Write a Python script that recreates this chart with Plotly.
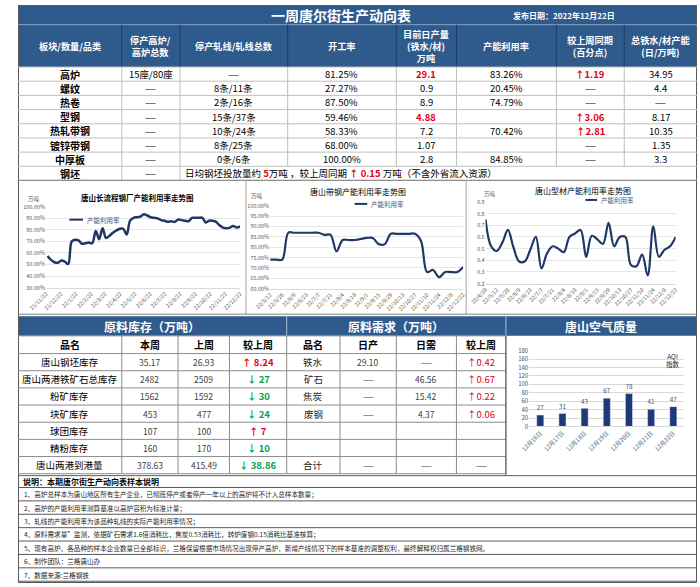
import plotly.graph_objects as go
import pandas as pd

W, H = 700, 587
FONT = 'Noto Sans CJK SC'
BLUE = '#2F5B8C'
NAVY = '#1F3864'
RED = '#E60012'
GREEN = '#00A550'
GRID = '#D9D9D9'
TICK = '#595959'

# ---------------- top table ----------------
row_names = ['高炉', '螺纹', '热卷', '型钢', '热轧带钢', '镀锌带钢', '中厚板', '钢坯']
bf_stop = ['15座/80座', '——', '——', '——', '——', '——', '——', '——']
line_stop = ['——', '8条/11条', '2条/16条', '15条/37条', '10条/24条', '8条/25条', '0条/6条']
run_rate = ['81.25%', '27.27%', '87.50%', '59.46%', '58.33%', '68.00%', '100.00%']
daily_out = ['29.1', '0.9', '8.9', '4.88', '7.2', '1.07', '2.8']
cap_util = ['83.26%', '20.45%', '74.79%', '', '70.42%', '', '84.85%']
wow_chg = ['↑1.19', '——', '——', '↑3.06', '↑2.81', '——', '——']
capacity = ['34.95', '4.4', '——', '8.17', '10.35', '1.35', '3.3']
red_out = ['29.1', '4.88']
billet_daily = '5'
billet_chg = '0.15'

# ---------------- trend charts ----------------
long_util = [57.5, 54, 52, 51.5, 53.5, 52.5, 50.5, 70, 71.5, 71, 68, 68.5, 69, 68.5,
             79, 72, 81.5, 73, 75, 77.5, 79.5, 81, 81, 76, 88, 90.5, 91, 91.5, 93.5,
             92.5, 91, 90.5, 90, 88.5, 88, 87, 87.5, 87, 89, 88.5, 88, 87.5, 90.5,
             90.5, 90.5, 90.5, 86.5, 88, 88, 87, 84, 82, 81.5, 82, 83.5, 82, 83]
strip_util = [74, 74, 74, 87, 87, 87, 87, 87, 87, 86, 86, 78, 83.5, 83.5, 83.5, 84,
              84.5, 84.5, 81.5, 81.5, 86.5, 86.5, 86.5, 86.5, 86.5, 83, 68, 69, 65.5,
              68, 68, 68, 70.5]
section_util = [0.75, 0.52, 0.48, 0.55, 0.66, 0.51, 0.39, 0.39, 0.49, 0.60, 0.33, 0.46,
                0.52, 0.50, 0.47, 0.60, 0.63, 0.66, 0.43, 0.61, 0.58, 0.54, 0.72, 0.52,
                0.60, 0.60, 0.36, 0.35, 0.45, 0.27, 0.69, 0.43, 0.49, 0.52, 0.60]

long_dates = pd.date_range(end='2022-12-22', periods=len(long_util), freq='7D')
long_ticks = pd.date_range('2021-11-22', periods=14, freq=pd.DateOffset(months=1))
strip_dates = pd.date_range('2022-05-12', periods=len(strip_util), freq='7D')
section_dates = pd.date_range('2022-04-28', periods=len(section_util), freq='7D')


def lab(d):
    return f'{d:%y}/{d.month}/{d.day}'


# ---------------- air quality ----------------
aqi_days = ['12月16日', '12月17日', '12月18日', '12月19日', '12月20日', '12月21日', '12月22日']
aqi = [27, 31, 43, 67, 78, 41, 47]

# ---------------- raw material tables ----------------
stock_names = ['唐山钢坯库存', '唐山两港铁矿石总库存', '粉矿库存', '块矿库存', '球团库存', '精粉库存', '唐山两港到港量']
stock_now = ['35.17', '2482', '1562', '453', '107', '160', '378.63']
stock_prev = ['26.93', '2509', '1592', '477', '100', '170', '415.49']
stock_chg = ['↑ 8.24', '↓ 27', '↓ 30', '↓ 24', '↑ 7', '↓ 10', '↓ 38.86']

need_names = ['铁水', '矿石', '焦炭', '废钢', '', '', '合计']
need_prod = ['29.10', '——', '——', '——', '', '', '——']
need_day = ['——', '46.56', '15.42', '4.37', '', '', '——']
need_chg = ['↑0.42', '↑0.67', '↑0.22', '↑0.06', '', '', '——']

notes = [
    '1、高炉总样本为唐山地区所有生产企业，已彻底停产或者停产一年以上的高炉将不计入总样本数量；',
    '2、高炉的产能利用率测算基准以高炉容积为标准计量；',
    '3、轧线的产能利用率为该品种轧线的实际产能利用率情况；',
    '4、原料需求量”监测，依据矿石需求1.6倍消耗比，焦炭0.53消耗比，转炉废钢0.15消耗比基准核算；',
    '5、现有高炉、各品种的样本企业数量已全部标识，兰格保留根据市场情况出现停产高炉、新增产线情况下的样本基准的调整权利，最终解释权归属兰格钢铁网。',
    '6、制作团队：兰格唐山办',
    '7、数据来源:兰格钢铁',
]

shapes, annos = [], []


def box(x0, y0, x1, y1, fill=None, line=None, w=1):
    shapes.append(dict(type='rect', xref='paper', yref='paper',
                       x0=x0 / W, x1=x1 / W, y0=1 - y1 / H, y1=1 - y0 / H,
                       fillcolor=fill or 'rgba(0,0,0,0)',
                       line=dict(color=line or 'rgba(0,0,0,0)', width=w if line else 0),
                       layer='below'))


def seg(x0, y0, x1, y1, color, w=1):
    shapes.append(dict(type='line', xref='paper', yref='paper',
                       x0=x0 / W, x1=x1 / W, y0=1 - y0 / H, y1=1 - y1 / H,
                       line=dict(color=color, width=w)))


def txt(x, y, s, size=9.5, color='black', anchor='center', bold=False):
    if bold:
        s = '<b>' + s + '</b>'
    annos.append(dict(x=x / W, y=1 - y / H, xref='paper', yref='paper', text=s,
                      showarrow=False, xanchor=anchor, yanchor='middle',
                      font=dict(size=size, color=color, family=FONT)))


def cell(x, y, s, size=9.5, color='black', bold=False):
    if s.startswith('——'):
        txt(x, y, s, size=6.5, color=color)
    elif s:
        txt(x, y, s, size=size, color=color, bold=bold)


# ===== top table =====
cols = [0, 107, 167, 278, 390, 452, 555, 625, 700]
centers = [(a + b) / 2 for a, b in zip(cols[:-1], cols[1:])]
box(0, 0, 700, 20, fill=BLUE)
box(0, 20, 700, 63, fill=BLUE)
seg(0, 20, 700, 20, '#7F9CC0')
txt(333, 10, '一周唐尔街生产动向表', size=14, color='white', bold=True)
txt(563, 11, '发布日期：2022年12月22日', size=8, color='white', bold=True)
headers = ['板块/数量/品类', '停产高炉/<br>高炉总数', '停产轧线/轧线总数', '开工率',
           '目前日产量<br>(铁水/材)<br>万吨', '产能利用率', '较上周同期<br>(百分点)',
           '总铁水/材产能<br>(日/万吨)']
for c in cols[1:-1]:
    seg(c, 20, c, 63, '#1C3C62')
for cx, h in zip(centers, headers):
    txt(cx, 42, h, size=9.2, color='white', bold=True)

rh = 14.4
for i in range(9):
    seg(0, 63 + rh * i, 700, 63 + rh * i, '#BFBFBF')
for c in cols[1:3]:
    seg(c, 63, c, 63 + rh * 8, '#BFBFBF')
for c in cols[3:-1]:
    seg(c, 63, c, 63 + rh * 7, '#BFBFBF')

for i, name in enumerate(row_names):
    y = 63 + rh * (i + 0.5)
    txt(centers[0], y, name, size=10, bold=True)
    cell(centers[1], y, bf_stop[i])
    if i < 7:
        cell(centers[2], y, line_stop[i])
        cell(centers[3], y, run_rate[i])
        is_red = daily_out[i] in red_out
        cell(centers[4], y, daily_out[i], color=RED if is_red else 'black', bold=is_red)
        cell(centers[5], y, cap_util[i])
        up = wow_chg[i].startswith('↑')
        cell(centers[6], y, wow_chg[i], color=RED if up else 'black', bold=up)
        cell(centers[7], y, capacity[i])
y = 63 + rh * 7.5
txt(170, y, '日均钢坯投放量约 <span style="color:%s"><b>%s</b></span>万吨 ，较上周同期 '
    '<span style="color:%s"><b>↑ %s</b></span> 万吨（不含外省流入资源）'
    % (RED, billet_daily, RED, billet_chg), size=9.5, anchor='left')

# ===== chart panels =====
seg(0, 178, 700, 178, '#7F7F7F')
seg(235, 178, 235, 314, '#A6A6A6')
seg(462, 178, 462, 314, '#A6A6A6')

txt(123, 195, '唐山长流程钢厂产能利用率走势图', size=7.5, bold=True)
txt(8, 197, '万吨', size=5.5, color=TICK, anchor='left')
seg(53, 218, 67, 218, NAVY, 2)
txt(69, 218, '产能利用率', size=6.5, color=TICK, anchor='left')

txt(350, 189, '唐山带钢产能利用率走势图', size=8)
txt(238, 194, '万吨', size=5.5, color=TICK, anchor='left')
seg(347, 202, 360, 202, NAVY, 2)
txt(362, 202, '产能利用率', size=6.5, color=TICK, anchor='left')

txt(582, 188, '唐山型材产能利用率走势图', size=8)
txt(478, 192, '万吨', size=5.5, color=TICK, anchor='left')
seg(585, 198, 597, 198, NAVY, 2)
txt(599, 198, '产能利用率', size=6.5, color=TICK, anchor='left')

# ===== lower panels =====
seg(0, 314, 700, 314, '#7F7F7F')
box(0, 316, 277, 336, fill=BLUE)
box(277, 316, 503, 336, fill=BLUE)
box(503, 316, 700, 336, fill=BLUE)
seg(277, 316, 277, 336, '#A6BDD7')
seg(503, 316, 503, 336, '#A6BDD7')
txt(138, 326, '原料库存（万吨）', size=12, color='white', bold=True)
txt(390, 326, '原料需求（万吨）', size=12, color='white', bold=True)
txt(601, 326, '唐山空气质量', size=12, color='white', bold=True)

t1 = [0, 107, 165, 218, 277]
t2 = [277, 332, 390, 452, 503]
hr, dr = 18, 17.43
for x0, x1 in ((0, 277), (277, 503)):
    for i in range(9):
        yy = 336 if i == 0 else 336 + hr + dr * (i - 1)
        seg(x0, yy, x1, yy, '#8C8C8C')
for c in t1[1:-1] + t2[:-1] + [503]:
    seg(c, 336, c, 336 + hr + dr * 7, '#8C8C8C')
seg(503, 336, 503, 478, '#595959')

for cs, hdrs in ((t1, ['品名', '本周', '上周', '较上周']), (t2, ['品名', '日产', '日需', '较上周'])):
    for a, b, h in zip(cs[:-1], cs[1:], hdrs):
        txt((a + b) / 2, 345, h, size=10, bold=True)

c1 = [(a + b) / 2 for a, b in zip(t1[:-1], t1[1:])]
c2 = [(a + b) / 2 for a, b in zip(t2[:-1], t2[1:])]
for i in range(7):
    y = 354 + dr * (i + 0.5)
    txt(c1[0], y, stock_names[i], size=9.5)
    txt(c1[1], y, stock_now[i], size=8.5, color='#404040')
    txt(c1[2], y, stock_prev[i], size=8.5, color='#404040')
    up = stock_chg[i].startswith('↑')
    txt(c1[3], y, stock_chg[i], size=9.5, color=RED if up else GREEN, bold=True)

    cell(c2[0], y, need_names[i], size=9.5, color='#262626')
    cell(c2[1], y, need_prod[i], size=8.5, color='#404040')
    cell(c2[2], y, need_day[i], size=8.5, color='#404040')
    cell(c2[3], y, need_chg[i], size=9.5, color=RED if need_chg[i].startswith('↑') else '#404040')

txt(675, 361, 'AQI<br>指数', size=6.5, color='#262626')

# ===== notes =====
seg(0, 478, 700, 478, '#595959')
txt(3, 484, '说明：本期唐尔街生产动向表样本说明', size=8, bold=True, anchor='left')
nr = 13.6
for i in range(8):
    seg(0, 490 + nr * i, 700, 490 + nr * i, '#595959')
for i, n in enumerate(notes):
    txt(4, 490 + nr * (i + 0.5), n, size=6.6, color='#262626', anchor='left')

box(0.5, 0.5, 699.5, 586.5, line='#595959')

# ===== traces =====
fig = go.Figure()
fig.add_trace(go.Scatter(x=long_dates, y=[v / 100 for v in long_util], mode='lines',
                         line=dict(color=NAVY, width=2.5, shape='spline'),
                         xaxis='x', yaxis='y'))
fig.add_trace(go.Scatter(x=[lab(d) for d in strip_dates], y=[v / 100 for v in strip_util],
                         mode='lines', line=dict(color=NAVY, width=2.2, shape='spline'),
                         xaxis='x2', yaxis='y2'))
fig.add_trace(go.Scatter(x=[lab(d) for d in section_dates], y=section_util,
                         mode='lines', line=dict(color=NAVY, width=2.2, shape='spline'),
                         xaxis='x3', yaxis='y3'))
fig.add_trace(go.Bar(x=aqi_days, y=aqi, marker_color='#1F3A78', width=0.32,
                     text=aqi, textposition='outside', cliponaxis=False,
                     textfont=dict(size=7, color='#44546A', family=FONT),
                     xaxis='x4', yaxis='y4'))

tick_font = dict(size=5.5, color=TICK, family=FONT)


def xax(x0, x1, **kw):
    d = dict(domain=[x0 / W, x1 / W], showgrid=False, showline=True, linecolor=GRID,
             ticks='', tickangle=-45, tickfont=tick_font, fixedrange=True)
    d.update(kw)
    return d


def yax(y_top, y_bot, **kw):
    d = dict(domain=[1 - y_bot / H, 1 - y_top / H], showgrid=True, gridcolor='#E6E6E6',
             zeroline=False, showline=False, ticks='', tickfont=tick_font, fixedrange=True)
    d.update(kw)
    return d


strip_labels = [lab(d) for d in strip_dates]
section_labels = [lab(d) for d in section_dates]

fig.update_layout(
    width=W, height=H, margin=dict(l=0, r=0, t=0, b=0),
    paper_bgcolor='white', plot_bgcolor='white', showlegend=False,
    font=dict(family=FONT),
    shapes=shapes, annotations=annos,
    xaxis=xax(29, 229, anchor='y', range=['2021-11-22', '2022-12-22'],
              tickvals=list(long_ticks), ticktext=[lab(d) for d in long_ticks]),
    yaxis=yax(205, 287, anchor='x', range=[0.3, 1.0], dtick=0.1, tickformat='.2%'),
    xaxis2=xax(260, 459, anchor='y2', type='category', range=[0, len(strip_util) - 1],
               tickvals=strip_labels[::2], ticktext=strip_labels[::2]),
    yaxis2=yax(204, 288, anchor='x2', range=[0.6, 1.0], dtick=0.05, tickformat='.2%'),
    xaxis3=xax(482, 678, anchor='y3', type='category', range=[0, len(section_util) - 1],
               tickvals=section_labels[::2], ticktext=section_labels[::2]),
    yaxis3=yax(200, 283, anchor='x3', range=[0.2, 0.9], dtick=0.1, tickformat='.1f'),
    xaxis4=xax(527, 687, anchor='y4', type='category',
               tickfont=dict(size=6, color='#44546A', family=FONT)),
    yaxis4=yax(351, 428, anchor='x4', range=[0, 180], dtick=20, gridcolor=GRID,
               tickfont=dict(size=6, color='#44546A', family=FONT)),
)

fig.write_html('out.html', config={'displayModeBar': False},
               post_script="document.body.style.margin='0';document.body.style.overflow='hidden';")
